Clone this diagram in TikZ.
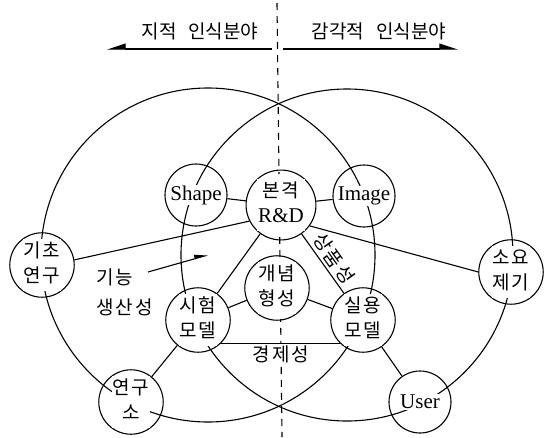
\documentclass[tikz,border=0pt]{standalone}
\usepackage{fontspec}
\setmainfont{Liberation Serif}
\newfontfamily\kr{Noto Sans CJK KR}
\usetikzlibrary{arrows.meta}
\pgfdeclarelayer{background}
\pgfsetlayers{background,main}
\setlength{\fboxsep}{0.8pt}
\newcommand{\krsz}{\kr\fontsize{19}{25}\selectfont}
\newcommand{\latinsz}{\rmfamily\fontsize{21}{25}\selectfont}
\newcommand{\lbtwo}[2]{\colorbox{white}{\begin{tabular}{@{}c@{}}#1\\#2\end{tabular}}}
\newcommand{\lbone}[1]{\colorbox{white}{#1}}
\newcommand{\kp}{\hspace{2pt}}
\begin{document}
\begin{tikzpicture}[x=1pt,y=-1pt,
  nd/.style={circle, draw, line width=1.1pt, minimum size=62pt, inner sep=0pt, font=\krsz},
  ln/.style={line width=1.1pt},
  dashln/.style={line width=1.1pt, dash pattern=on 7pt off 6pt},
  harp/.style={-{Triangle[harpoon, length=17pt, width=11pt]}},
  harpsw/.style={-{Triangle[harpoon, swap, length=17pt, width=11pt]}},
  harpsm/.style={-{Triangle[harpoon, length=12pt, width=8pt]}},
  lab/.style={font=\krsz, inner sep=1pt}]
\useasboundingbox (0,0) rectangle (552,437);
% nodes
\node[nd] (sh) at (196,195) {\lbone{\latinsz Shape}};
\node[nd] (rd) at (281,205) {\lbtwo{본\kp 격}{\latinsz R\&D}};
\node[nd] (im) at (364,196) {\lbone{\latinsz Image}};
\node[nd] (gi) at (42,265) {\lbtwo{기\kp 초}{연\kp 구}};
\node[nd] (so) at (511,272) {\lbtwo{소\kp 요}{제\kp 기}};
\node[nd] (gn) at (277,288) {\lbtwo{개\kp 념}{형\kp 성}};
\node[nd] (si) at (198,320) {\lbtwo{시\kp 험}{모\kp 델}};
\node[nd] (sl) at (363,320) {\lbtwo{실\kp 용}{모\kp 델}};
\node[nd] (yg) at (131,402) {\lbtwo{연\kp 구}{소}};
\node[nd] (us) at (420,402) {\lbone{\latinsz User}};
% coordinates
\coordinate (dtop) at (277,3);
\coordinate (dbot) at (282,437);
\coordinate (lc) at (208,255);
\coordinate (rc) at (347,255);
\coordinate (la1) at (272,49);
\coordinate (la2) at (107,49);
\coordinate (ra1) at (283,49);
\coordinate (ra2) at (458,49);
\coordinate (fa) at (148,272);
\coordinate (fb) at (208,255);
\begin{pgfonlayer}{background}
  \draw[dashln] (dtop) -- (dbot);
  \foreach \n in {sh,rd,im,gi,so,gn,si,sl,yg,us}
    \fill[white] (\n.center) circle[radius=31];
  \draw[ln] (lc) circle[radius=167];
  \draw[ln] (rc) circle[radius=166];
\end{pgfonlayer}
% top labels and arrows
\node[lab] (tl) at (200,31) {지적\hspace{12pt}인식분야};
\node[lab] (tr) at (379,31) {감각적\hspace{12pt}인식분야};
\draw[ln, harpsw] (la1) -- (la2);
\draw[ln, harp] (ra1) -- (ra2);
% connectors
\draw[ln] (sh) -- (rd);
\draw[ln] (rd) -- (im);
\draw[ln] (gi.9) -- (rd.207);
\draw[ln] (rd.-36) -- (so.180);
\draw[ln] (rd) -- (si);
\draw[ln] (rd) -- (sl)
  node[pos=0.27, sloped, above=3pt, lab, inner sep=0pt] (sp1) {상}
  node[pos=0.53, sloped, above=3pt, lab, inner sep=0pt] (sp2) {품}
  node[pos=0.80, sloped, above=3pt, lab, inner sep=0pt] (sp3) {성};
\draw[ln] (si) -- (gn);
\draw[ln] (gn) -- (sl);
\draw[ln] (si.-45) -- (sl.-135);
\draw[ln] (yg) -- (si);
\draw[ln] (sl) -- (us);
% labels
\node[lab, fill=white] (gj) at (281,354) {경\kp 제\kp 성};
\node[lab, align=left, anchor=west, inner sep=0pt, font=\kr\fontsize{19}{30}\selectfont] (fl) at (96,292) {기\kp 능\\생\kp 산\kp 성};
\draw[ln, harpsm] (fa) -- (fb);
\end{tikzpicture}
\end{document}
